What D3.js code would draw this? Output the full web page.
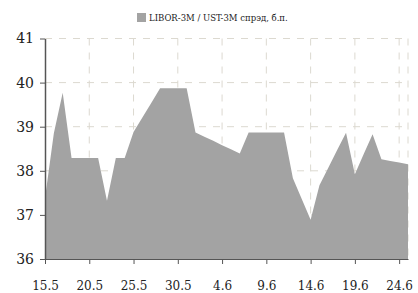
<!DOCTYPE html>
<html>
<head>
<meta charset="utf-8">
<script src="https://cdn.jsdelivr.net/npm/d3@7"></script>
<style>
  body { margin: 0; background: #fff; }
  svg { display: block; font-family: "DejaVu Serif", Georgia, serif; }
  .grid line { stroke: #dcd9d0; stroke-dasharray: 7,7; }
  .axis path, .axis line { stroke: #555; }
</style>
</head>
<body>
<svg id="chart" width="418" height="293"></svg>
<script>
// daily fixings, 15 May - 25 Jun
var dates = ["2012-05-15","2012-05-16","2012-05-17","2012-05-18","2012-05-19","2012-05-20","2012-05-21",
  "2012-05-22","2012-05-23","2012-05-24","2012-05-25","2012-05-26","2012-05-27","2012-05-28","2012-05-29",
  "2012-05-30","2012-05-31","2012-06-01","2012-06-02","2012-06-03","2012-06-04","2012-06-05","2012-06-06",
  "2012-06-07","2012-06-08","2012-06-09","2012-06-10","2012-06-11","2012-06-12","2012-06-13","2012-06-14",
  "2012-06-15","2012-06-16","2012-06-17","2012-06-18","2012-06-19","2012-06-20","2012-06-21","2012-06-22",
  "2012-06-23","2012-06-24","2012-06-25"];
var spread = [37.38,38.85,39.77,38.29,38.29,38.29,38.29,
  37.32,38.29,38.29,38.88,39.21,39.54,39.87,39.87,
  39.87,39.87,38.87,38.77,38.68,38.58,38.49,38.39,
  38.87,38.87,38.87,38.87,38.87,37.83,37.36,36.89,
  37.67,38.07,38.47,38.86,37.92,38.38,38.83,38.26,
  38.22,38.19,38.15];
var xTicks = ["2012-05-15","2012-05-20","2012-05-25","2012-05-30","2012-06-04","2012-06-09","2012-06-14","2012-06-19","2012-06-24"];
var yTicks = [36, 37, 38, 39, 40, 41];
var seriesName = "LIBOR-3M / UST-3M спрэд, б.п.";

var parse = d3.timeParse("%Y-%m-%d");
var data = dates.map(function(d, i){ return {date: parse(d), value: spread[i]}; });

var svg = d3.select("#chart");
var margin = {top: 38.5, right: 10, bottom: 34, left: 45};
var width = +svg.attr("width"), height = +svg.attr("height");

var x = d3.scaleTime()
    .domain(d3.extent(data, function(d){ return d.date; }))
    .range([margin.left, width - margin.right]);
var y = d3.scaleLinear()
    .domain([36, 41])
    .range([height - margin.bottom, margin.top]);

// grid
var grid = svg.append("g").attr("class", "grid");
grid.selectAll(".h").data(yTicks.slice(1)).enter().append("line")
    .attr("x1", margin.left).attr("x2", width - margin.right)
    .attr("y1", function(d){ return y(d); }).attr("y2", function(d){ return y(d); });
grid.selectAll(".v").data(xTicks.slice(1)).enter().append("line")
    .attr("x1", function(d){ return x(parse(d)); }).attr("x2", function(d){ return x(parse(d)); })
    .attr("y1", margin.top).attr("y2", height - margin.bottom);
grid.append("line")
    .attr("x1", width - margin.right).attr("x2", width - margin.right)
    .attr("y1", margin.top).attr("y2", height - margin.bottom);

// area
var area = d3.area()
    .x(function(d){ return x(d.date); })
    .y0(y(36))
    .y1(function(d){ return y(d.value); });
svg.append("path").datum(data)
    .attr("fill", "#a3a3a3")
    .attr("d", area);

// axes
svg.append("g").attr("class", "axis")
    .attr("transform", "translate(0," + (height - margin.bottom) + ")")
    .call(d3.axisBottom(x)
        .tickValues(xTicks.map(parse))
        .tickSize(5).tickSizeOuter(0).tickPadding(17)
        .tickFormat(d3.timeFormat("%-d.%-m")))
    .call(function(g){
        g.select(".domain").attr("stroke-width", 1);
        g.selectAll("text").attr("font-size", 12).attr("fill", "#222")
            .attr("font-family", "DejaVu Serif");
    });

svg.append("g").attr("class", "axis")
    .attr("transform", "translate(" + margin.left + ",0)")
    .call(d3.axisLeft(y).tickValues(yTicks).tickSize(5).tickSizeOuter(0).tickPadding(6)
        .tickFormat(d3.format("d")))
    .call(function(g){
        g.select(".domain").attr("stroke-width", 1.5);
        g.selectAll("text").attr("font-size", 14).attr("fill", "#222")
            .attr("font-family", "DejaVu Serif");
    });

// legend
var legend = svg.append("g").attr("transform", "translate(137,13)");
legend.append("rect").attr("width", 9).attr("height", 9).attr("fill", "#a3a3a3");
legend.append("text").attr("x", 12).attr("y", 8)
    .attr("font-size", 8.5).attr("fill", "#222")
    .text(seriesName);
</script>
</body>
</html>
